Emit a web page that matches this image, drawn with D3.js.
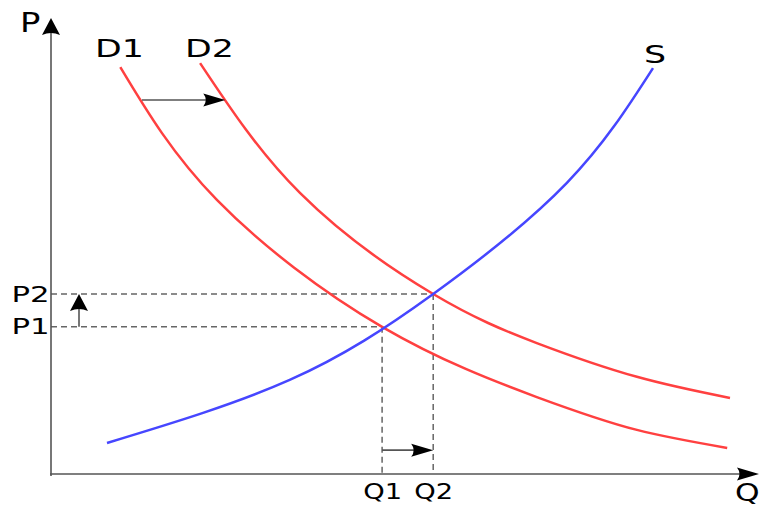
<!DOCTYPE html>
<html>
<head>
<meta charset="utf-8">
<script src="https://cdn.jsdelivr.net/npm/d3@7"></script>
<style>
  html, body { margin: 0; padding: 0; background: #fff; }
  svg { display: block; }
  text { font-family: "DejaVu Sans", sans-serif; fill: #000; }
</style>
</head>
<body>
<svg id="chart" width="759" height="506"></svg>
<script>
// Demand before and after the shift, and supply (quantity, price)
const demand1 = [[0.99, 9.04], [2.37, 6.09], [4.73, 3.27], [6.94, 1.71], [8.37, 0.98], [9.66, 0.58]];
const demand2 = [[2.13, 9.13], [3.56, 6.24], [5.46, 4.00], [6.94, 2.91], [8.37, 2.16], [9.70, 1.69]];
const supply  = [[0.80, 0.69], [3.41, 2.09], [5.46, 4.00], [7.37, 6.47], [8.60, 9.02]];

// Equilibrium quantities and prices
const quantities = [4.73, 5.46];
const prices = [3.27, 4.00];
const quantityLabels = ["Q1", "Q2"];
const priceLabels = ["P1", "P2"];

// Shift arrows: demand shift, quantity rise, price rise
const demandShift = { p: 8.31, from: 1.30, to: 2.49 };
const quantityShiftP = 0.53;
const priceShiftQ = 0.40;

const svg = d3.select("#chart");
const x = d3.scaleLinear([0, 10], [51, 751]);
const y = d3.scaleLinear([0, 10], [474, 24]);

const axisGray = "#555";

// Arrowhead with a slightly concave back; dir: "right" or "up"
function head(tx, ty, dir) {
  let d;
  if (dir === "right") {
    d = `M${tx},${ty} L${tx - 22},${ty - 6.5} Q${tx - 17},${ty} ${tx - 22},${ty + 6.5} Z`;
  } else {
    d = `M${tx},${ty} L${tx - 9},${ty + 17} Q${tx},${ty + 13} ${tx + 9},${ty + 17} Z`;
  }
  svg.append("path").attr("d", d).attr("fill", "#000");
}

// Wide-set label text
function label(tx, ty, str, size, stretch) {
  svg.append("text")
    .attr("transform", `translate(${tx},${ty}) scale(${stretch},1)`)
    .attr("font-size", size)
    .text(str);
}

// Dashed guides from each equilibrium to the axes
const dash = svg.append("g").attr("stroke", "#666").attr("stroke-width", 1.5)
  .attr("stroke-dasharray", "6,4").attr("fill", "none");
quantities.forEach((q, i) => {
  dash.append("line").attr("x1", x(0)).attr("x2", x(q)).attr("y1", y(prices[i])).attr("y2", y(prices[i]));
  dash.append("line").attr("x1", x(q)).attr("x2", x(q)).attr("y1", y(prices[i])).attr("y2", y(0));
});

// Curves
const line = d3.line().x(d => x(d[0])).y(d => y(d[1])).curve(d3.curveNatural);
[[demand1, "#ff4040"], [demand2, "#ff4040"], [supply, "#4646ff"]].forEach(([data, c]) => {
  svg.append("path").datum(data).attr("d", line)
    .attr("fill", "none").attr("stroke", c).attr("stroke-width", 2.5);
});

// Axes with equilibrium tick labels
const leftAxis = svg.append("g").attr("transform", `translate(${x(0)},0)`)
  .call(d3.axisLeft(y).tickValues(prices).tickFormat((d, i) => priceLabels[i]).tickSize(0).tickPadding(1));
const bottomAxis = svg.append("g").attr("transform", `translate(0,${y(0)})`)
  .call(d3.axisBottom(x).tickValues(quantities).tickFormat((d, i) => quantityLabels[i]).tickSize(0).tickPadding(10));
[leftAxis, bottomAxis].forEach(g => {
  g.select(".domain").remove();
  g.selectAll("text").attr("font-family", "DejaVu Sans, sans-serif").attr("fill", "#000");
});
leftAxis.selectAll("text").attr("font-size", 22).attr("transform", "scale(1.4,1)");
bottomAxis.selectAll("text").attr("font-size", 21).attr("transform", "scale(1.3,1)");

svg.append("line").attr("x1", x(0)).attr("x2", x(0)).attr("y1", y(0) + 2).attr("y2", 30)
  .attr("stroke", axisGray).attr("stroke-width", 1.6);
head(x(0), 18, "up");
svg.append("line").attr("x1", x(0) - 1).attr("x2", 745).attr("y1", y(0)).attr("y2", y(0))
  .attr("stroke", axisGray).attr("stroke-width", 1.6);
head(759, y(0), "right");

// Shift arrows
const shaft = (x1, y1, x2, y2) => svg.append("line").attr("x1", x1).attr("y1", y1)
  .attr("x2", x2).attr("y2", y2).attr("stroke", axisGray).attr("stroke-width", 1.6);
shaft(x(demandShift.from), y(demandShift.p), x(demandShift.to) - 10, y(demandShift.p));
head(x(demandShift.to), y(demandShift.p), "right");
shaft(x(quantities[0]), y(quantityShiftP), x(quantities[1]) - 10, y(quantityShiftP));
head(x(quantities[1]), y(quantityShiftP), "right");
shaft(x(priceShiftQ), y(prices[0]), x(priceShiftQ), y(prices[1]) + 8);
head(x(priceShiftQ), y(prices[1]), "up");

// Labels
label(20, 32, "P", 26, 1.3);
label(735, 501, "Q", 25, 1.25);
label(95, 57, "D1", 24, 1.45);
label(185, 57, "D2", 24, 1.45);
label(644, 63, "S", 24, 1.45);
</script>
</body>
</html>
